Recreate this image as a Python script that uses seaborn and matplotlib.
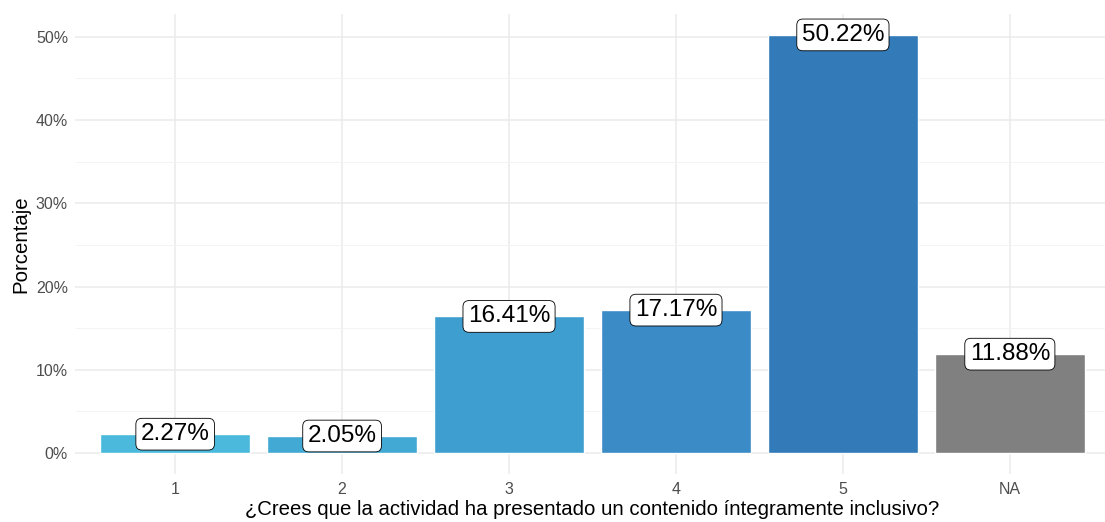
import matplotlib
matplotlib.use("Agg")
import matplotlib.pyplot as plt
import seaborn as sns
import pandas as pd
from matplotlib.ticker import FuncFormatter, MultipleLocator

categories = ["1", "2", "3", "4", "5", "NA"]
values = [2.27, 2.05, 16.41, 17.17, 50.22, 11.88]
labels = ["2.27%", "2.05%", "16.41%", "17.17%", "50.22%", "11.88%"]
colors = ["#4ab9dc", "#42a8d4", "#3f9ed0", "#3a8bc6", "#337ab9", "#808080"]
x_title = "¿Crees que la actividad ha presentado un contenido íntegramente inclusivo?"
y_title = "Porcentaje"

sns.set_theme(style="white")
plt.rcParams["font.family"] = ["Liberation Sans", "DejaVu Sans"]

df = pd.DataFrame({"cat": categories, "val": values})

W, H = 1105, 522
fig = plt.figure(figsize=(W / 100, H / 100), dpi=100)
left, right, top, bottom = 75, 1110, 14, 474
ax = fig.add_axes([left / W, 1 - bottom / H, (right - left) / W, (bottom - top) / H])

sns.barplot(data=df, x="cat", y="val", hue="cat", order=categories, hue_order=categories,
            palette=colors, dodge=False, legend=False, width=0.9, saturation=1, ax=ax,
            zorder=3)

ax.set_xlim(-0.6, 5.6)
ymax = max(values)
ax.set_ylim(-0.05 * ymax, 1.05 * ymax)

ax.yaxis.set_major_locator(MultipleLocator(10))
ax.yaxis.set_minor_locator(MultipleLocator(5))
ax.yaxis.set_major_formatter(FuncFormatter(lambda v, p: f"{v:.0f}%"))
ax.grid(True, which="major", axis="both", color="#ebebeb", linewidth=1.1, zorder=0)
ax.grid(True, which="minor", axis="y", color="#f3f3f3", linewidth=0.6, zorder=0)
ax.set_axisbelow(True)
for s in ax.spines.values():
    s.set_visible(False)
ax.tick_params(axis="both", length=0, labelsize=11.5, labelcolor="#4d4d4d")
ax.tick_params(axis="x", pad=6)
ax.tick_params(axis="y", pad=5)
ax.set_xlabel(x_title, fontsize=14.7, color="black", labelpad=2)
ax.set_ylabel(y_title, fontsize=14.7, color="black", labelpad=4)

for i, (v, lab) in enumerate(zip(values, labels)):
    ax.text(i, v, lab, ha="center", va="center", fontsize=17.5, color="black", zorder=5,
            bbox=dict(boxstyle="round,pad=0.2,rounding_size=0.25", fc="white", ec="black", lw=0.6))

fig.savefig("out.png", dpi=100)
